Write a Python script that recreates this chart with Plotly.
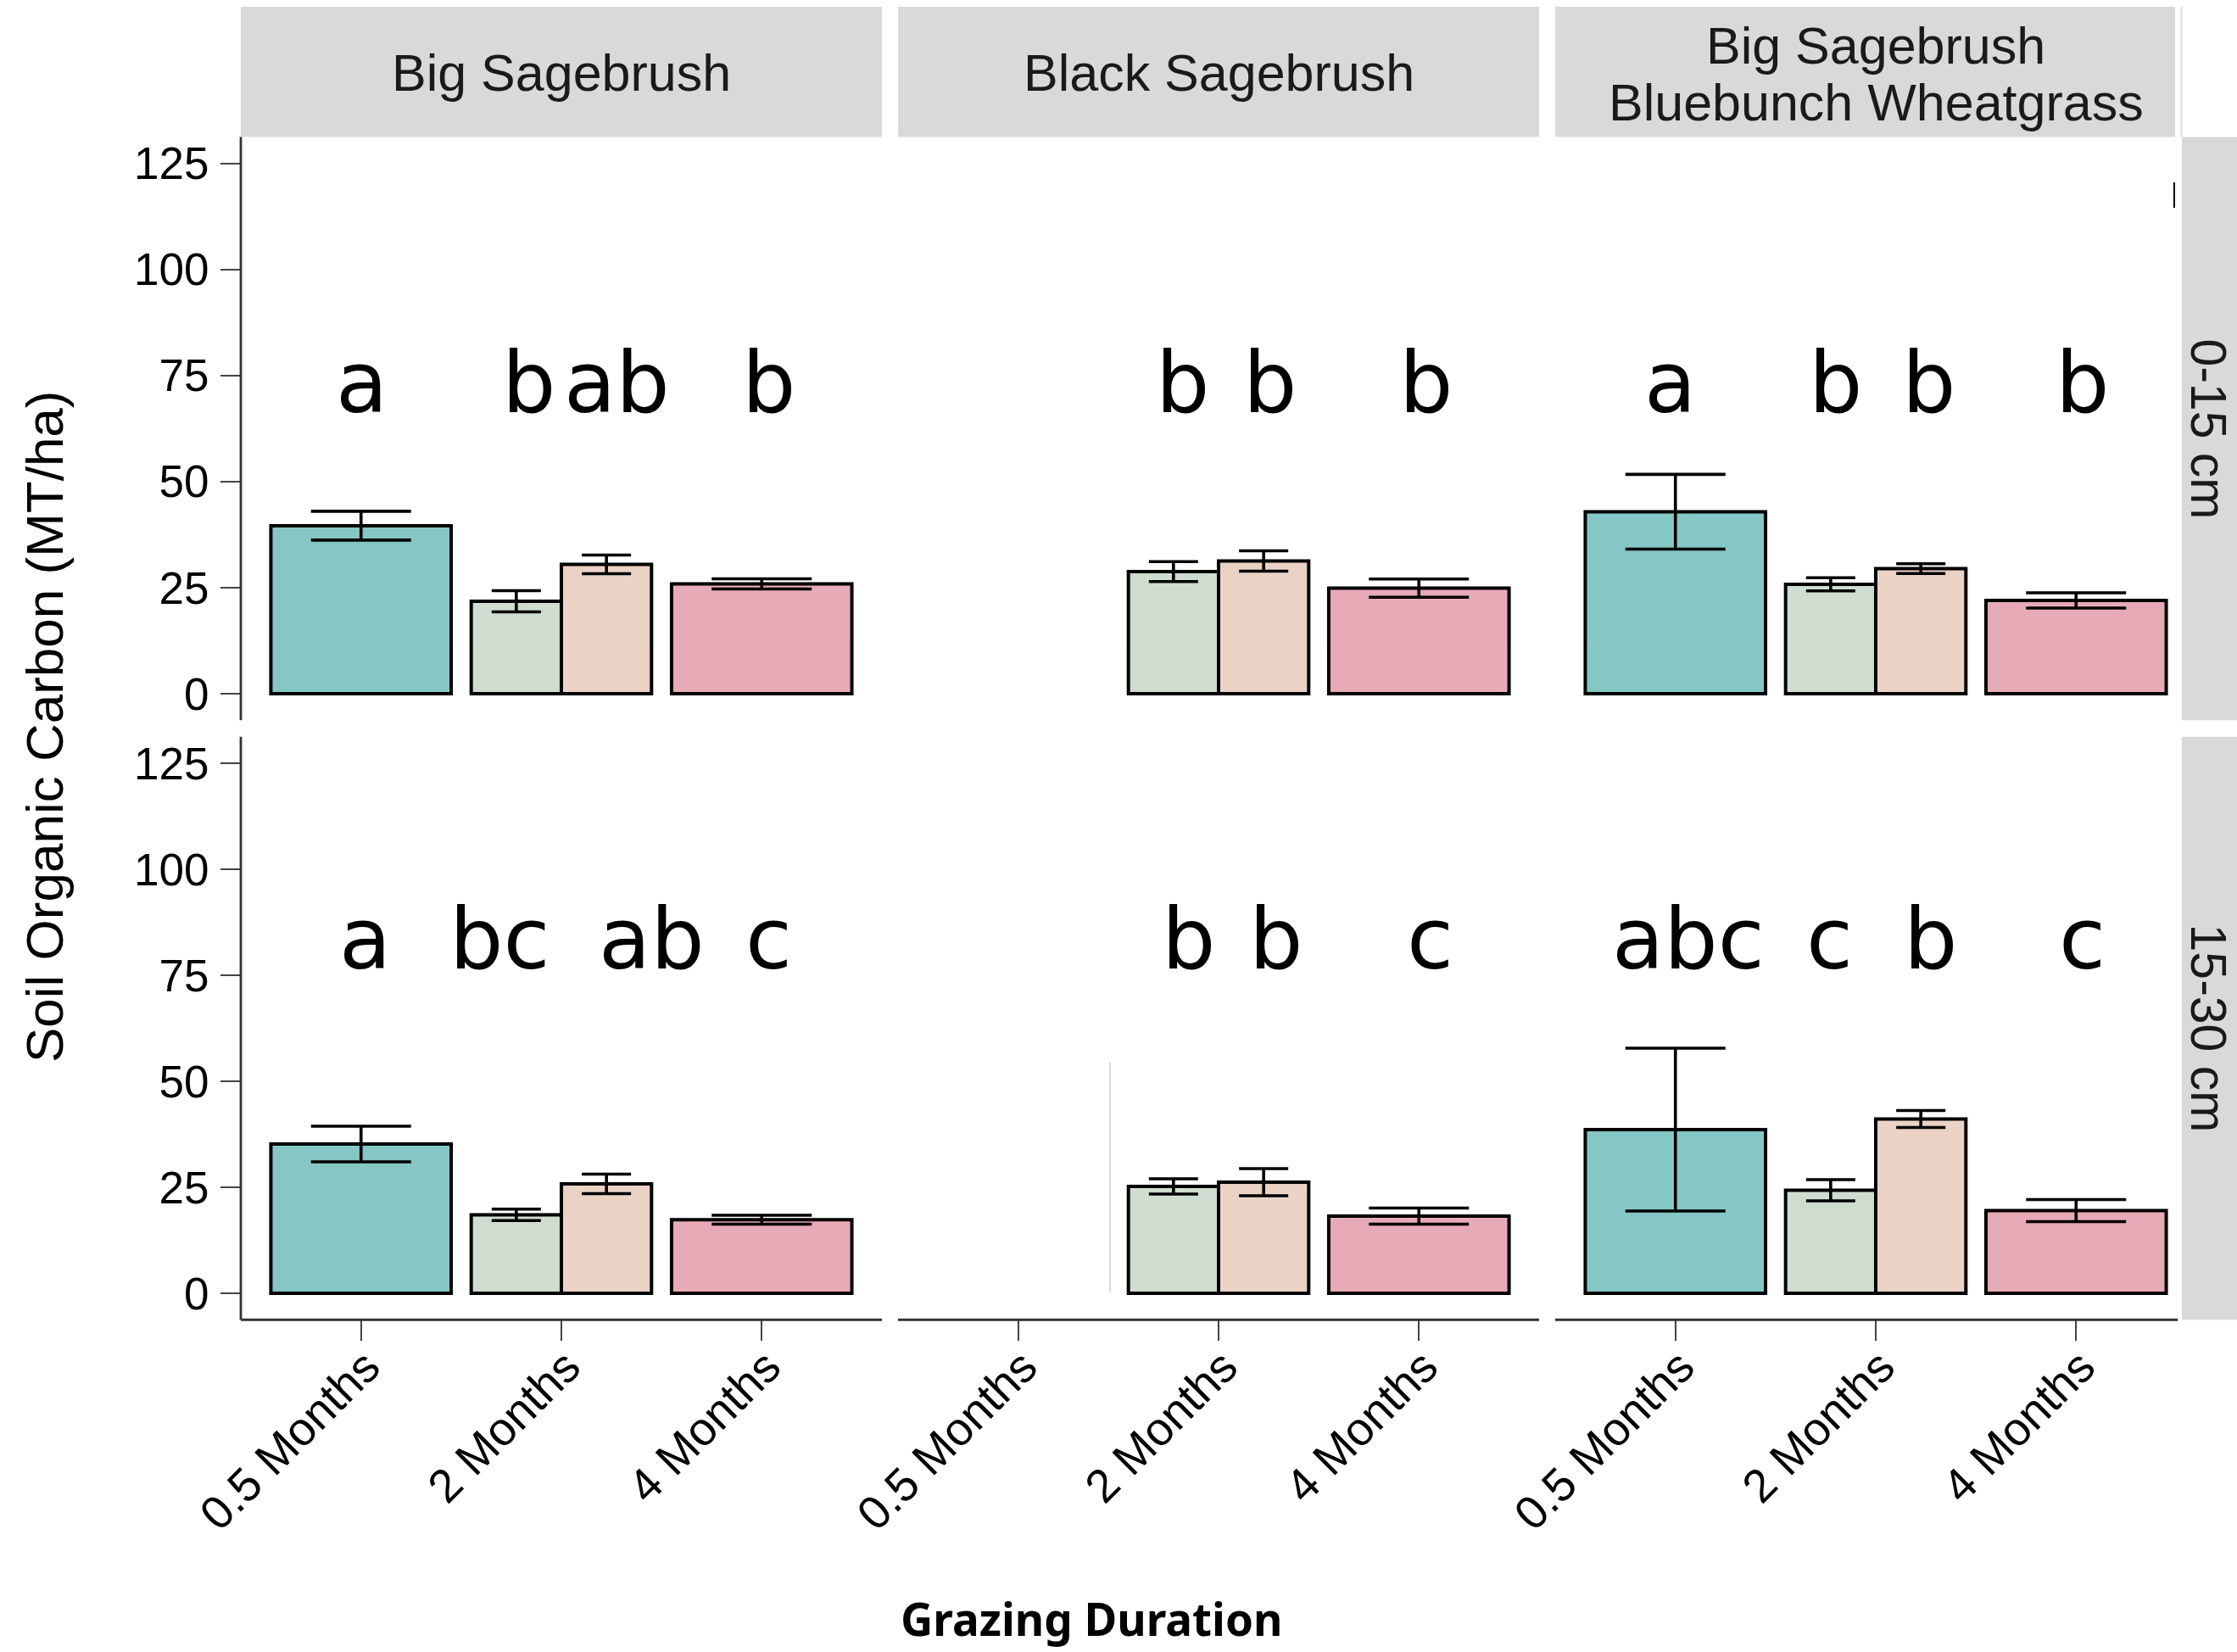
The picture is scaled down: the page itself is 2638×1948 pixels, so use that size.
import plotly.graph_objects as go

# ---------------- data ----------------
depths = ["0-15 cm", "15-30 cm"]
sites = ["Big Sagebrush", "Black Sagebrush", "Big Sagebrush<br>Bluebunch Wheatgrass"]
durations = ["0.5 Months", "2 Months", "4 Months"]
groups = ["0.5 Months", "2 Months A", "2 Months B", "4 Months"]

# panel order: [0-15 col1, col2, col3, 15-30 col1, col2, col3]
teal_mean = [39.6, None, 42.9, 35.2, None, 38.6]
teal_se = [3.4, None, 8.8, 4.2, None, 19.2]
green_mean = [21.8, 28.8, 25.8, 18.5, 25.2, 24.3]
green_se = [2.5, 2.35, 1.55, 1.35, 1.8, 2.5]
peach_mean = [30.5, 31.3, 29.5, 25.8, 26.2, 41.1]
peach_se = [2.2, 2.4, 1.15, 2.3, 3.2, 2.0]
pink_mean = [25.9, 24.9, 22.0, 17.35, 18.2, 19.5]
pink_se = [1.2, 2.15, 1.8, 1.05, 1.9, 2.6]

letters = [
    ["a", "b", "ab", "b"],
    [None, "b", "b", "b"],
    ["a", "b", "b", "b"],
    ["a", "bc", "ab", "c"],
    [None, "b", "b", "c"],
    ["abc", "c", "b", "c"],
]
letter_x = [
    [1.002, 1.838, 2.279, 3.033],
    [None, 1.822, 2.256, 3.035],
    [0.974, 1.801, 2.264, 3.031],
    [1.018, 1.691, 2.449, 3.037],
    [None, 1.848, 2.287, 3.056],
    [1.065, 1.768, 2.275, 3.029],
]
letter_y = [73.2, 83.6]  # per depth row

colors = ["#85C7C5", "#CEDDD0", "#EAD2C5", "#E7AAB7"]
means = [teal_mean, green_mean, peach_mean, pink_mean]
ses = [teal_se, green_se, peach_se, pink_se]

# ---------------- layout geometry ----------------
W, H = 2638, 1948
col_px = [(284, 1040), (1059, 1815), (1834, 2590)]
row_px = [(161.5, 849.25), (868.75, 1556.25)]
BW = 0.9
centers = [1, 2 - BW / 4, 2 + BW / 4, 3]
widths = [BW, BW / 2, BW / 2, BW]
cap_w = [59, 29, 29, 59]


def fx(p):
    return p / W


def fy(p):
    return 1 - p / H


fig = go.Figure()
layout = {}
annotations = []
shapes = []

FONT = "Liberation Sans, Arial, sans-serif"

for r in range(2):
    for c in range(3):
        i = r * 3 + c
        n = i + 1
        xa = "x" if n == 1 else f"x{n}"
        ya = "y" if n == 1 else f"y{n}"
        for g in range(4):
            m = means[g][i]
            if m is None:
                continue
            fig.add_trace(go.Bar(
                x=[centers[g]], y=[m], width=[widths[g]],
                xaxis=xa, yaxis=ya, name=groups[g], showlegend=False,
                marker=dict(color=colors[g], line=dict(color="black", width=4)),
                error_y=dict(type="data", array=[ses[g][i]], visible=True,
                             color="black", thickness=3.6, width=cap_w[g]),
            ))
            if letters[i][g]:
                annotations.append(dict(
                    x=letter_x[i][g], y=letter_y[r], xref=xa, yref=ya,
                    text=letters[i][g], showarrow=False, xanchor="center", yanchor="middle",
                    font=dict(family="DejaVu Sans", size=100, color="black")))
        x0, x1 = col_px[c]
        y0, y1 = row_px[r]
        layout["xaxis" + ("" if n == 1 else str(n))] = dict(
            domain=[fx(x0), fx(x1)], range=[0.4, 3.6], anchor=ya, automargin=False,
            tickmode="array", tickvals=[1, 2, 3], ticktext=durations,
            showticklabels=(r == 1), ticks="outside" if r == 1 else "",
            ticklen=24, tickwidth=2, tickcolor="#444", tickangle=-45,
            ticklabelstandoff=-24, ticklabelshift=6,
            tickfont=dict(family=FONT, size=55, color="black"),
            showgrid=False, zeroline=False, showline=False)
        layout["yaxis" + ("" if n == 1 else str(n))] = dict(
            domain=[fy(y1), fy(y0)], range=[-6.25, 131.25], anchor=xa, automargin=False,
            tickmode="array", tickvals=[0, 25, 50, 75, 100, 125],
            showticklabels=(c == 0), ticks="outside" if c == 0 else "",
            ticklen=23, tickwidth=2, tickcolor="#444", ticklabelstandoff=3,
            tickfont=dict(family=FONT, size=53, color="black"),
            showgrid=False, zeroline=False, showline=False)

# strips (top)
strip_top = (8, 161.5)
strip_right_edges = [1040, 1815, 2565]
for c in range(3):
    shapes.append(dict(type="rect", xref="paper", yref="paper", layer="below",
                       x0=fx(col_px[c][0]), x1=fx(strip_right_edges[c]),
                       y0=fy(strip_top[1]), y1=fy(strip_top[0]),
                       fillcolor="#D9D9D9", line=dict(width=0)))
cx = [(a + b) / 2 for a, b in col_px]
annotations.append(dict(x=fx(cx[0]), y=fy(86), xref="paper", yref="paper", text=sites[0],
                        showarrow=False, xanchor="center", yanchor="middle",
                        font=dict(family=FONT, size=61, color="#1a1a1a")))
annotations.append(dict(x=fx(cx[1]), y=fy(86), xref="paper", yref="paper", text=sites[1],
                        showarrow=False, xanchor="center", yanchor="middle",
                        font=dict(family=FONT, size=61, color="#1a1a1a")))
for k, line in enumerate(sites[2].split("<br>")):
    annotations.append(dict(x=fx(cx[2]), y=fy([54, 121][k]), xref="paper", yref="paper", text=line,
                            showarrow=False, xanchor="center", yanchor="middle",
                            font=dict(family=FONT, size=61, color="#1a1a1a")))

# strips (right)
for r in range(2):
    y0, y1 = row_px[r]
    shapes.append(dict(type="rect", xref="paper", yref="paper", layer="above",
                       x0=fx(2573), x1=fx(2645), y0=fy(y1), y1=fy(y0),
                       fillcolor="#D9D9D9", line=dict(width=0)))
    annotations.append(dict(x=fx(2604), y=fy((y0 + y1) / 2), xref="paper", yref="paper",
                            text=depths[r], textangle=90, showarrow=False,
                            xanchor="center", yanchor="middle",
                            font=dict(family=FONT, size=59, color="#1a1a1a")))
shapes.append(dict(type="line", xref="paper", yref="paper", x0=fx(2572.5), x1=fx(2572.5),
                   y0=fy(161.5), y1=fy(8), line=dict(color="#DDDDDD", width=2)))

# axis lines
AX = dict(color="#333333", width=2.8)
for r in range(2):
    y0, y1 = row_px[r]
    shapes.append(dict(type="line", xref="paper", yref="paper", x0=fx(284), x1=fx(284),
                       y0=fy(y1), y1=fy(y0), line=AX, layer="above"))
x_ends = [1040, 1815, 2568]
for c in range(3):
    shapes.append(dict(type="line", xref="paper", yref="paper",
                       x0=fx(col_px[c][0]), x1=fx(x_ends[c]),
                       y0=fy(1556.25), y1=fy(1556.25), line=AX, layer="above"))

# small rendering artefacts seen in the reference
shapes.append(dict(type="line", xref="paper", yref="paper", x0=fx(1309), x1=fx(1309),
                   y0=fy(1524), y1=fy(1253), line=dict(color="#CCCCCC", width=1.5)))
shapes.append(dict(type="line", xref="paper", yref="paper", x0=fx(2564), x1=fx(2564),
                   y0=fy(245), y1=fy(215), line=dict(color="black", width=2)))

# axis titles
annotations.append(dict(x=fx(52), y=fy(857), xref="paper", yref="paper",
                        text="Soil Organic Carbon (MT/ha)", textangle=-90, showarrow=False,
                        xanchor="center", yanchor="middle",
                        font=dict(family=FONT, size=62, color="black")))
annotations.append(dict(x=fx(1287), y=fy(1947), xref="paper", yref="paper",
                        text="<b>Grazing Duration</b>", showarrow=False,
                        xanchor="center", yanchor="bottom",
                        font=dict(family="Noto Sans, sans-serif", size=53, color="black")))

fig.update_layout(
    width=W, height=H, margin=dict(l=0, r=0, t=0, b=0, autoexpand=False),
    paper_bgcolor="white", plot_bgcolor="white",
    barmode="overlay", showlegend=False,
    annotations=annotations, shapes=shapes, **layout,
)

fig.write_html("out.html")
